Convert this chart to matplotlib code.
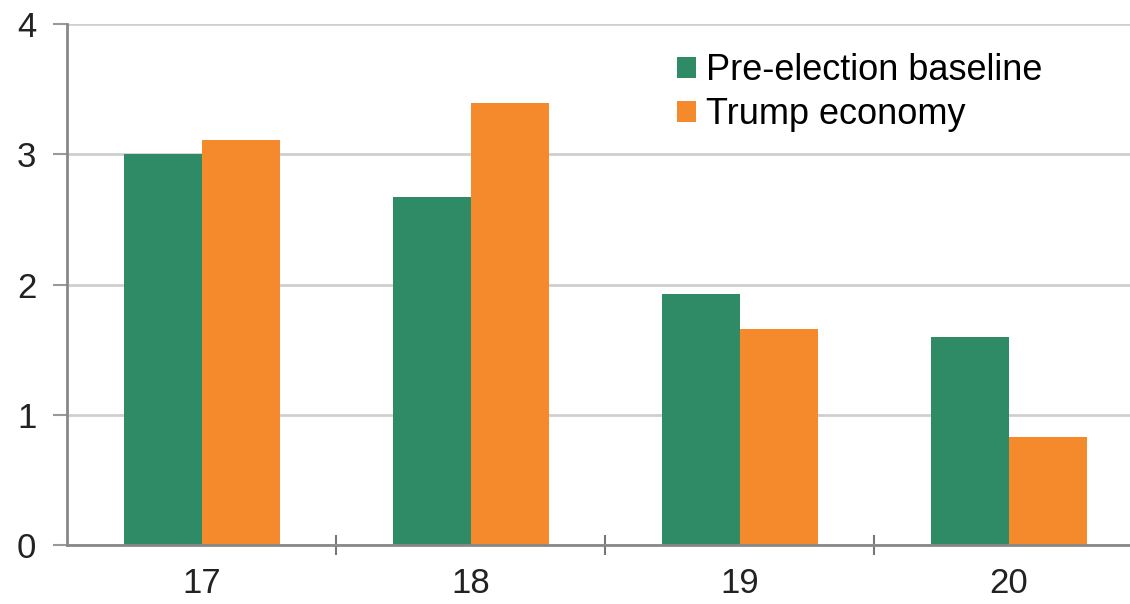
import matplotlib.pyplot as plt
import numpy as np

plt.rcParams['font.family'] = ['Liberation Sans', 'DejaVu Sans']

# Data
years = ['17', '18', '19', '20']
baseline = [3.00, 2.67, 1.93, 1.60]
trump = [3.11, 3.39, 1.66, 0.83]

green = '#2e8b66'
orange = '#f58a2c'

fig = plt.figure(figsize=(11.3, 6.04), dpi=100)
ax = fig.add_axes([67 / 1130, 59 / 604, (1130 - 67) / 1130, (545 - 24) / 604])

x = np.arange(len(years))
w = 0.29
ax.bar(x - w / 2, baseline, w, color=green, label='Pre-election baseline')
ax.bar(x + w / 2, trump, w, color=orange, label='Trump economy')

ax.set_ylim(0, 4)
ax.set_xlim(-0.5, 3.45)
ax.set_yticks([0, 1, 2, 3, 4])
ax.yaxis.grid(True, color='#cfcfcf', linewidth=2)
ax.set_axisbelow(True)

# ticks between categories, labels at the centres
ax.set_xticks(x)
ax.set_xticklabels(years)
ax.set_xticks(x[:-1] + 0.5, minor=True)
ax.tick_params(axis='x', which='major', length=0, labelsize=25, pad=16, colors='#222222')
ax.tick_params(axis='x', which='minor', length=14, width=1.5, direction='inout', color='#777777')
ax.tick_params(axis='y', length=10, width=1.5, direction='out', labelsize=25, pad=12,
               colors='#222222')
ax.tick_params(axis='y', color='#999999')

for s in ['top', 'right']:
    ax.spines[s].set_visible(False)
for s in ['left', 'bottom']:
    ax.spines[s].set_color('#888888')
    ax.spines[s].set_linewidth(2)

ax.legend(loc='upper left', bbox_to_anchor=(663 / 1130, 1 - 39 / 604),
          bbox_transform=fig.transFigure, frameon=False, fontsize=26,
          handlelength=0.5, handleheight=0.5, handletextpad=0.3, labelspacing=0.25,
          borderaxespad=0)

fig.savefig('out.png', dpi=100)
